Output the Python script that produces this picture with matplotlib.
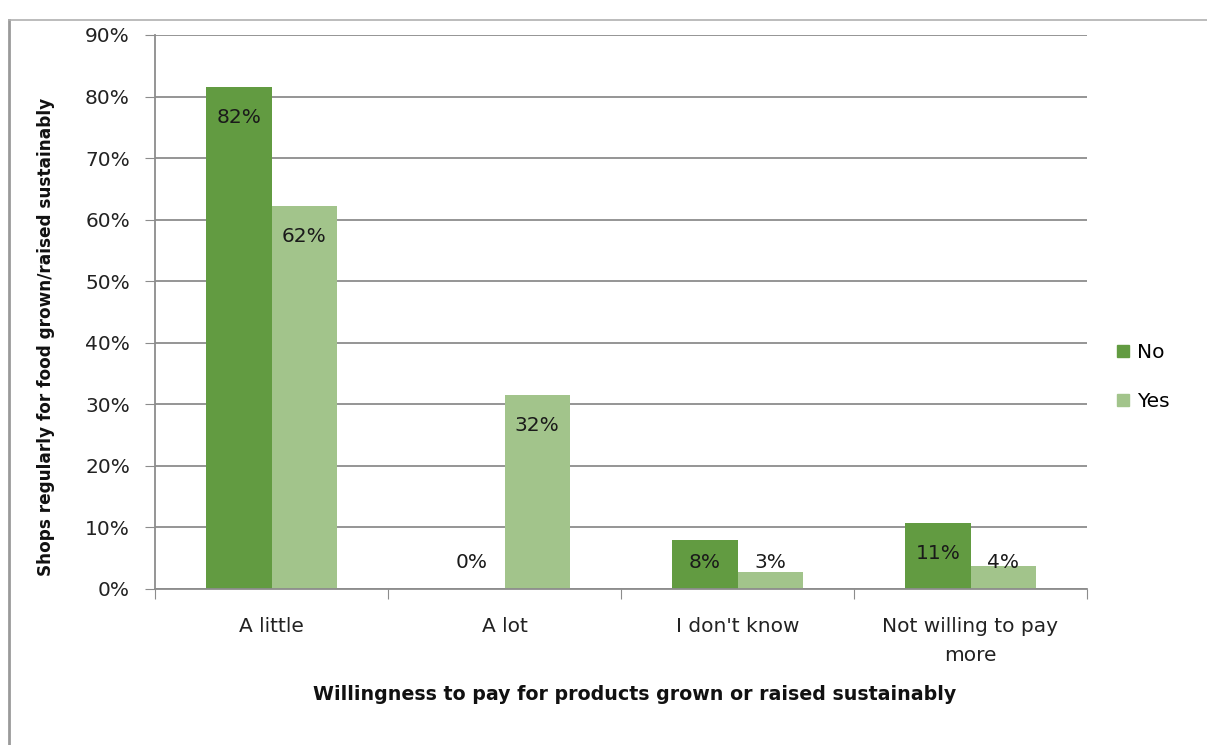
import matplotlib
matplotlib.use("Agg")
import matplotlib.pyplot as plt
from matplotlib.lines import Line2D
import numpy as np

categories = ["A little", "A lot", "I don't know", "Not willing to pay\nmore"]
series_names = ["No", "Yes"]
no_values = [81.6, 0.0, 8.0, 10.7]
yes_values = [62.2, 31.5, 2.8, 3.8]
y_ticks = [0, 10, 20, 30, 40, 50, 60, 70, 80, 90]
y_tick_labels = [f"{t}%" for t in y_ticks]

colors = ["#629B41", "#A2C48B"]
plt.rcParams["font.family"] = ["DejaVu Sans"]

W, H = 1207, 745
fig = plt.figure(figsize=(W / 100, H / 100), dpi=100)
ax = fig.add_axes([155 / W, 1 - 589 / H, (1087 - 155) / W, (589 - 35) / H])

x = np.arange(len(categories))
bw = 0.28
for i, (vals, name) in enumerate(zip([no_values, yes_values], series_names)):
    offs = (i - 0.5) * bw
    ax.bar(x + offs, vals, width=bw, color=colors[i], label=name, zorder=2)
    for xi, v in zip(x, vals):
        ly = max(v - 5.0, 4.3)
        ax.text(xi + offs, ly, f"{round(v):d}%", ha="center", va="center",
                fontsize=14.5, color="#1a1a1a", zorder=3)

ax.set_xlim(-0.5, len(categories) - 0.5)
ax.set_ylim(0, 90)
ax.set_yticks(y_ticks)
ax.set_yticklabels(y_tick_labels, fontsize=14.5, color="#222222")
ax.yaxis.grid(True, color="#8c8c8c", linewidth=1.3, zorder=0)
ax.set_axisbelow(True)

ax.set_xticks(np.arange(-0.5, len(categories) + 0.5, 1.0))
ax.set_xticklabels([])
ax.set_xticks(x, minor=True)
ax.set_xticklabels(categories, minor=True, fontsize=14.5, color="#222222",
                   linespacing=1.7)
ax.tick_params(axis="x", which="minor", length=0, pad=20)
ax.tick_params(axis="x", which="major", length=7, color="#8c8c8c", direction="out")
ax.tick_params(axis="y", length=7, color="#8c8c8c", direction="out", pad=11)

for s in ["top", "right"]:
    ax.spines[s].set_visible(False)
for s in ["left", "bottom"]:
    ax.spines[s].set_color("#8c8c8c")
    ax.spines[s].set_linewidth(1.3)

ax.set_xlabel("Willingness to pay for products grown or raised sustainably",
              fontsize=13.7, fontweight="bold", labelpad=14, color="#111111")
ax.xaxis.label.set_x((635 - 155) / 932)
ax.set_ylabel("Shops regularly for food grown/raised sustainably",
              fontsize=12.2, fontweight="bold", labelpad=22, color="#111111")
ax.yaxis.label.set_y(0.455)

leg = fig.legend(handles=[Line2D([0], [0], marker="s", color="none",
                                 markerfacecolor=c, markeredgecolor=c, markersize=9)
                          for c in colors],
                 labels=series_names, loc="center left",
                 bbox_to_anchor=(1097 / W, 1 - 377 / H), frameon=False,
                 fontsize=14.5, handlelength=0.8, handletextpad=0.3,
                 labelspacing=1.5)

# outer chart frame (left and top edges visible)
fig.add_artist(Line2D([9 / W, 9 / W], [0, 1 - 20 / H], transform=fig.transFigure,
                      color="#9a9a9a", linewidth=2))
fig.add_artist(Line2D([9 / W, 1], [1 - 20 / H, 1 - 20 / H], transform=fig.transFigure,
                      color="#b0b0b0", linewidth=1.2))

fig.savefig("out.png", dpi=100)
